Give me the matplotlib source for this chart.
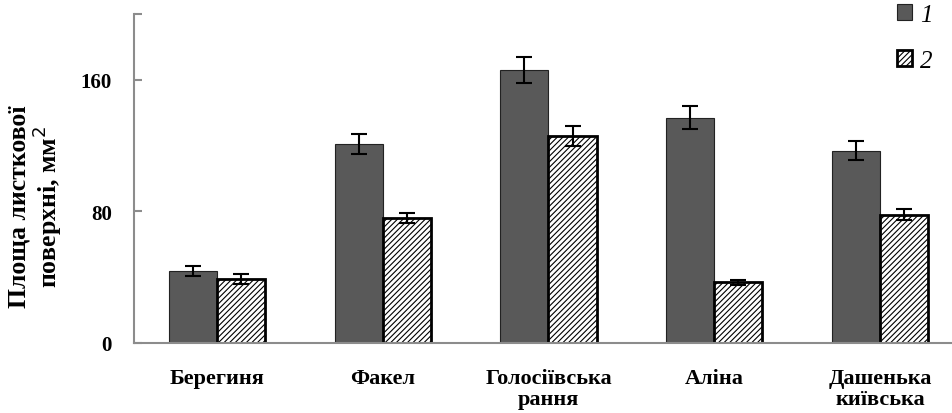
import matplotlib
matplotlib.use("Agg")
import matplotlib.pyplot as plt
import numpy as np

plt.rcParams['font.family'] = ['Liberation Serif', 'DejaVu Serif']
plt.rcParams['hatch.linewidth'] = 0.8

# data
varieties = ['Берегиня', 'Факел', 'Голосіївська\nрання', 'Аліна', 'Дашенька\nкиївська']
series1 = [44, 121, 166, 137, 117]
err1 = [3, 6, 8, 7, 6]
series2 = [39, 76, 126, 37, 78]
err2 = [3, 3, 6, 1.5, 3.5]
labels = ['1', '2']

fig = plt.figure(figsize=(9.53, 4.14), dpi=100)
ax = fig.add_axes([134/953, 1 - 344/414, (963 - 134)/953, (344 - 15)/414])

x = np.arange(len(varieties))
w = 0.29
ekw = dict(ecolor='black', capsize=6, elinewidth=1.5, capthick=1.5)
b1 = ax.bar(x - w/2, series1, w, color='#595959', edgecolor='#222222', linewidth=0.8,
            yerr=err1, error_kw=ekw, label=labels[0], zorder=2)
b2 = ax.bar(x + w/2, series2, w, color='white', edgecolor='black', linewidth=2, hatch='//////',
            yerr=err2, error_kw=ekw, label=labels[1], zorder=2)

ax.set_xlim(-0.5, len(varieties) - 0.5)
ax.set_ylim(0, 200)
ax.set_yticks([0, 80, 160, 200])
ax.set_yticklabels(['0', '80', '160', ''])
ax.set_xticks(x)
ax.set_xticklabels(varieties, fontsize=16, fontweight='bold', linespacing=1.1)
for t in ax.get_yticklabels():
    t.set_fontweight('bold')

for s in ['top', 'right']:
    ax.spines[s].set_visible(False)
for s in ['left', 'bottom']:
    ax.spines[s].set_color('#8c8c8c')
    ax.spines[s].set_linewidth(1.5)
ax.tick_params(axis='y', direction='in', length=6, color='#8c8c8c', width=1.5,
               labelsize=15, pad=16)
ax.tick_params(axis='x', length=0, pad=18)

fig.text(0.037, 0.5, 'Площа листкової\nповерхні, мм$^2$', rotation=90, ha='center', va='center',
         fontsize=18.5, fontweight='bold', linespacing=1.0)

leg = ax.legend(loc='upper right', bbox_to_anchor=(950/953, 1.03), bbox_transform=fig.transFigure,
                frameon=False, prop={'style': 'italic', 'size': 18}, handlelength=0.6,
                handleheight=0.6, handletextpad=0.3, labelspacing=0.95, borderpad=0.2)

fig.savefig('out.png', dpi=100)
